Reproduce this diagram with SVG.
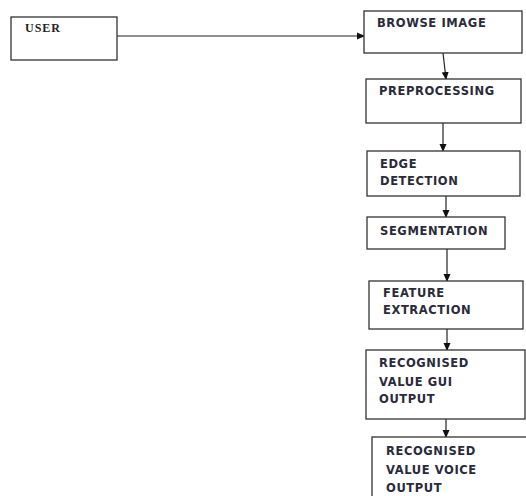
<svg xmlns="http://www.w3.org/2000/svg" width="526" height="496" viewBox="0 0 526 496">
<style>
.box{fill:#fff;stroke:#333;stroke-width:1.3}
.t{font-family:"DejaVu Sans","Liberation Sans",sans-serif;font-size:11.5px;font-weight:bold;letter-spacing:0.6px;fill:#2a2a3a}
.s{font-family:"Liberation Serif",serif;font-size:12px;font-weight:bold;letter-spacing:1px;fill:#222}
.c{stroke:#222;stroke-width:1.2;fill:none;marker-end:url(#ah)}
</style>
<defs>
<marker id="ah" markerWidth="8" markerHeight="8" refX="7" refY="4" orient="auto" markerUnits="userSpaceOnUse">
<path d="M0,0.5 L8,4 L0,7.5 Z" fill="#111"/>
</marker>
</defs>
<rect width="526" height="496" fill="#fff"/>
<g id="connectors">
<path class="c" d="M117,36 L364,36"/>
<path class="c" d="M443,53 L446,79"/>
<path class="c" d="M443,123 L443,151"/>
<path class="c" d="M446,196 L446,217"/>
<path class="c" d="M447,249 L447,281"/>
<path class="c" d="M447,329 L447,350"/>
<path class="c" d="M446,419 L446,437"/>
</g>
<g id="user"><rect class="box" x="11" y="17" width="106" height="43"/><text class="s" x="25" y="32">USER</text></g>
<g id="browse"><rect class="box" x="364" y="11" width="158" height="42"/><text class="t" x="377" y="27">BROWSE IMAGE</text></g>
<g id="preprocessing"><rect class="box" x="366" y="79" width="155" height="44"/><text class="t" x="379" y="95">PREPROCESSING</text></g>
<g id="edge"><rect class="box" x="367" y="151" width="153" height="45"/><text class="t" x="380" y="168">EDGE</text><text class="t" x="380" y="185">DETECTION</text></g>
<g id="segmentation"><rect class="box" x="367" y="217" width="138" height="32"/><text class="t" x="380" y="235">SEGMENTATION</text></g>
<g id="feature"><rect class="box" x="369" y="281" width="154" height="48"/><text class="t" x="383" y="297">FEATURE</text><text class="t" x="383" y="314">EXTRACTION</text></g>
<g id="gui"><rect class="box" x="366" y="350" width="159" height="69"/><text class="t" x="379" y="367">RECOGNISED</text><text class="t" x="379" y="386">VALUE GUI</text><text class="t" x="379" y="403">OUTPUT</text></g>
<g id="voice"><rect class="box" x="372" y="437" width="160" height="70"/><text class="t" x="386" y="455">RECOGNISED</text><text class="t" x="386" y="474">VALUE VOICE</text><text class="t" x="386" y="492">OUTPUT</text></g>
</svg>
